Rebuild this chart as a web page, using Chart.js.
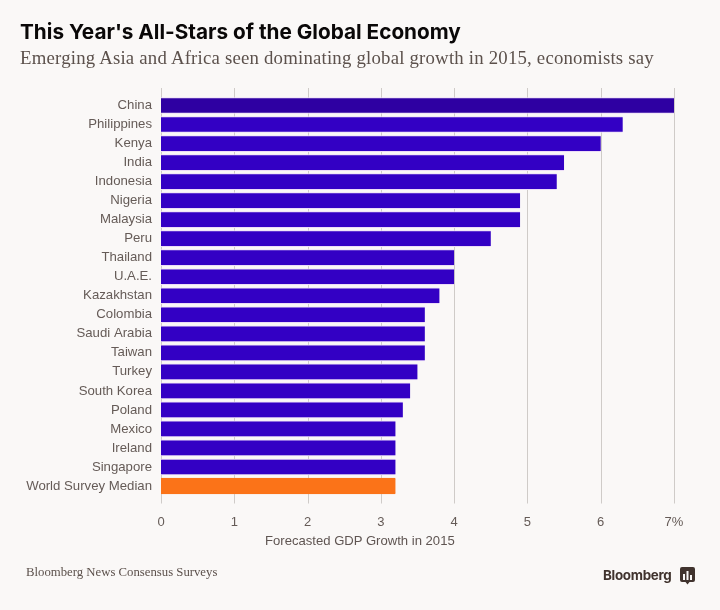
<!DOCTYPE html>
<html>
<head>
<meta charset="utf-8">
<title>This Year's All-Stars of the Global Economy</title>
<script src="https://cdn.jsdelivr.net/npm/chart.js@4"></script>
<style>
  html, body { margin: 0; padding: 0; background: #faf8f7; }
  #wrap { position: relative; width: 720px; height: 610px; overflow: hidden; }
  canvas { position: absolute; left: 0; top: 0; }
  .txt { position: absolute; white-space: nowrap; }
  #title { left: 20px; top: 19px; font: bold 20.75px Inter, sans-serif; color: #0a0808; }
  #subtitle { left: 20px; top: 47px; font: 18.8px "Liberation Serif", serif; color: #5c514c; letter-spacing: 0.2px; }
  #xlabel { left: 265px; top: 533px; font: 13.1px "Liberation Sans", sans-serif; color: #5f5552; }
  #source { left: 26px; top: 565px; font: 12.75px "Liberation Serif", serif; color: #5c514c; }
  #brand { left: 603px; top: 567px; font: bold 13.4px Inter, sans-serif; color: #40332e; letter-spacing: -0.3px; }
  #logo { position: absolute; left: 680px; top: 567px; }
</style>
</head>
<body>
<div id="wrap">
  <canvas id="chart" width="720" height="610"></canvas>
  <div class="txt" id="title">This Year's All-Stars of the Global Economy</div>
  <div class="txt" id="subtitle">Emerging Asia and Africa seen dominating global growth in 2015, economists say</div>
  <div class="txt" id="xlabel">Forecasted GDP Growth in 2015</div>
  <div class="txt" id="source">Bloomberg News Consensus Surveys</div>
  <div class="txt" id="brand">Bloomberg</div>
  <svg id="logo" width="15" height="18" viewBox="0 0 15 18">
    <path d="M2 0H13a2 2 0 0 1 2 2V13a2 2 0 0 1-2 2H9.5L7.5 17.5L5.5 15H2a2 2 0 0 1-2-2V2a2 2 0 0 1 2-2Z" fill="#40332e"/>
    <path d="M3 7h2v6H3ZM6.5 4h2v9H6.5ZM10 8h2v5H10Z" fill="#faf8f7"/>
  </svg>
</div>
<script>
// Chart data
const countries = ['China', 'Philippines', 'Kenya', 'India', 'Indonesia', 'Nigeria', 'Malaysia', 'Peru',
  'Thailand', 'U.A.E.', 'Kazakhstan', 'Colombia', 'Saudi Arabia', 'Taiwan', 'Turkey', 'South Korea',
  'Poland', 'Mexico', 'Ireland', 'Singapore', 'World Survey Median'];
const growth = [7.0, 6.3, 6.0, 5.5, 5.4, 4.9, 4.9, 4.5, 4.0, 4.0, 3.8, 3.6, 3.6, 3.6, 3.5, 3.4, 3.3, 3.2, 3.2, 3.2, 3.2];
const xTicks = [0, 1, 2, 3, 4, 5, 6, 7];

const BAR = '#3300c4';
const BAR_TOP = '#2e00a2';
const MEDIAN = '#fb7318';
const LABEL = '#655b57';

// Gridlines stick out past the first and last bars
const longGrid = {
  id: 'longGrid',
  beforeDatasetsDraw(chart) {
    const { ctx, chartArea, scales } = chart;
    ctx.save();
    ctx.strokeStyle = '#cfcbc8';
    ctx.lineWidth = 1;
    xTicks.forEach(t => {
      const x = Math.round(scales.x.getPixelForValue(t)) + 0.5;
      ctx.beginPath();
      ctx.moveTo(x, chartArea.top - 8);
      ctx.lineTo(x, chartArea.bottom + 8);
      ctx.stroke();
    });
    ctx.restore();
  },
};

new Chart(document.getElementById('chart'), {
  type: 'bar',
  data: {
    labels: countries,
    datasets: [{
      data: growth,
      backgroundColor: c => c.dataIndex === countries.length - 1 ? MEDIAN : c.dataIndex === 0 ? BAR_TOP : BAR,
      borderColor: c => c.dataIndex === countries.length - 1 ? MEDIAN : '#ecdcf8',
      borderWidth: { top: 1, bottom: 1 },
      borderSkipped: false,
      barThickness: 16,
    }],
  },
  options: {
    indexAxis: 'y',
    responsive: false,
    animation: false,
    layout: { padding: { top: 96, right: 46, bottom: 74.5, left: 0 } },
    plugins: { legend: { display: false }, tooltip: { enabled: false } },
    scales: {
      x: {
        min: 0,
        max: 7,
        afterBuildTicks: axis => { axis.ticks = xTicks.map(value => ({ value })); },
        afterFit: axis => { axis.height = 40; },
        grid: { display: false },
        border: { display: false },
        ticks: {
          callback: v => v === 7 ? '7%' : String(v),
          padding: 11,
          maxRotation: 0,
          color: LABEL,
          font: { family: 'Liberation Sans', size: 13 },
        },
      },
      y: {
        afterFit: axis => { axis.width = 161; },
        grid: { display: false },
        border: { display: false },
        ticks: {
          autoSkip: false,
          padding: 1,
          color: LABEL,
          font: { family: 'Liberation Sans', size: 13.2 },
        },
      },
    },
  },
  plugins: [longGrid],
});
</script>
</body>
</html>
